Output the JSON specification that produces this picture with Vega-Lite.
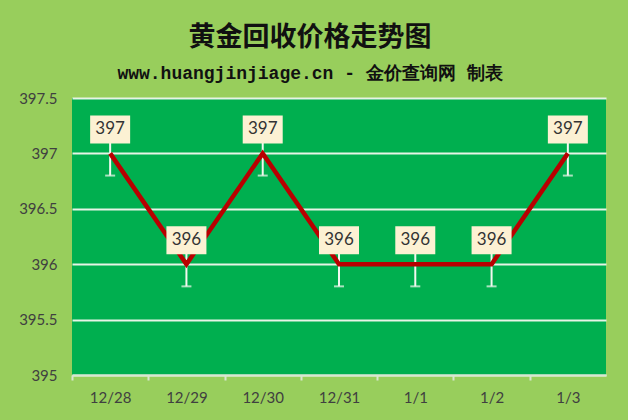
{
  "$schema": "https://vega.github.io/schema/vega-lite/v6.json",
  "width": 534,
  "height": 277,
  "autosize": {"type": "none"},
  "padding": {"left": 72, "top": 98, "right": 22, "bottom": 45},
  "background": "#98CE5C",
  "title": {
    "text": "黄金回收价格走势图",
    "subtitle": "www.huangjinjiage.cn - 金价查询网 制表",
    "anchor": "middle",
    "dx": -29,
    "offset": 7,
    "font": "Noto Sans CJK SC",
    "fontSize": 27,
    "fontWeight": "bold",
    "color": "#111111",
    "subtitleFont": "Liberation Mono",
    "subtitleFontSize": 18,
    "subtitleFontWeight": "bold",
    "subtitleColor": "#111111",
    "subtitlePadding": 13
  },
  "data": {
    "values": [
      {"date": "12/28", "price": 397, "lo": 396.8, "hi": 397.2},
      {"date": "12/29", "price": 396, "lo": 395.8, "hi": 396.2},
      {"date": "12/30", "price": 397, "lo": 396.8, "hi": 397.2},
      {"date": "12/31", "price": 396, "lo": 395.8, "hi": 396.2},
      {"date": "1/1", "price": 396, "lo": 395.8, "hi": 396.2},
      {"date": "1/2", "price": 396, "lo": 395.8, "hi": 396.2},
      {"date": "1/3", "price": 397, "lo": 396.8, "hi": 397.2}
    ]
  },
  "encoding": {
    "x": {
      "field": "date",
      "type": "ordinal",
      "sort": null,
      "scale": {"type": "point", "padding": 0.5},
      "axis": {
        "title": null,
        "labelAngle": 0,
        "labelFont": "Lato",
        "labelFontSize": 15,
        "labelColor": "#404040",
        "labelPadding": 10,
        "domainColor": "#D9E6D0",
        "domainWidth": 2,
        "tickColor": "#D9E6D0",
        "tickWidth": 2,
        "tickSize": 5,
        "tickOffset": -38.14,
        "labelOffset": 38.14,
        "grid": false
      }
    },
    "y": {
      "type": "quantitative",
      "scale": {"domain": [395, 397.5], "nice": false, "zero": false},
      "axis": {
        "title": null,
        "values": [395, 395.5, 396, 396.5, 397, 397.5],
        "format": "~g",
        "labelFont": "Lato",
        "labelFontSize": 15,
        "labelColor": "#404040",
        "labelPadding": 15,
        "ticks": false,
        "domain": false,
        "grid": true,
        "gridColor": "#E6F4E6",
        "gridWidth": 2
      }
    }
  },
  "layer": [
    {
      "mark": {"type": "rule", "color": "#F2F8F0", "strokeWidth": 2},
      "encoding": {"y": {"field": "lo"}, "y2": {"field": "hi"}}
    },
    {
      "mark": {"type": "tick", "color": "#F2F8F0", "thickness": 2, "size": 10, "orient": "horizontal"},
      "encoding": {"y": {"field": "lo"}}
    },
    {
      "mark": {"type": "line", "color": "#B80000", "strokeWidth": 4.5},
      "encoding": {"y": {"field": "price"}}
    },
    {
      "mark": {
        "type": "point",
        "shape": "M-1,-0.7H1V0.7H-1Z",
        "size": 1600,
        "filled": true,
        "fill": "#FCF1D3",
        "opacity": 1,
        "strokeWidth": 0,
        "yOffset": -24
      },
      "encoding": {"y": {"field": "price"}}
    },
    {
      "mark": {
        "type": "text",
        "font": "Lato",
        "fontSize": 17,
        "color": "#333333",
        "dy": -24,
        "baseline": "middle",
        "align": "center"
      },
      "encoding": {"y": {"field": "price"}, "text": {"field": "price", "type": "quantitative", "format": "d"}}
    }
  ],
  "config": {
    "view": {"fill": "#00AF4F", "stroke": null}
  }
}
